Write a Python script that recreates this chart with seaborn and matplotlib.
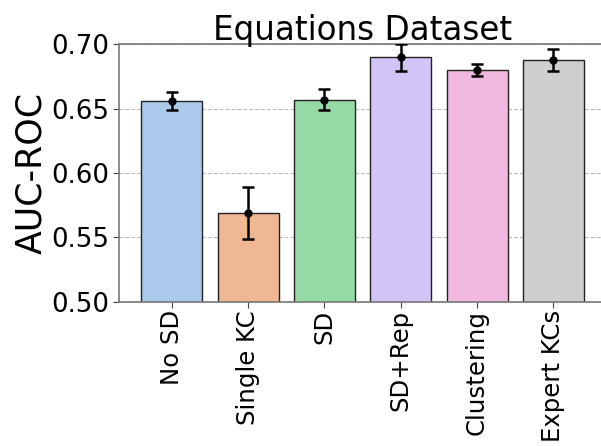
import matplotlib
matplotlib.use("Agg")
import matplotlib.pyplot as plt
import seaborn as sns
import pandas as pd
import numpy as np

categories = ["No SD", "Single KC", "SD", "SD+Rep", "Clustering", "Expert KCs"]
auc_mean = [0.656, 0.569, 0.657, 0.690, 0.680, 0.688]
auc_err = [0.007, 0.020, 0.008, 0.0105, 0.0048, 0.0083]

pal = sns.color_palette("pastel")
colors = [pal[0], pal[1], pal[2], pal[4], pal[6], pal[7]]

sns.set_style("white")
plt.rcParams['font.family'] = ['DejaVu Sans']
plt.rcParams['text.color'] = 'black'
plt.rcParams['axes.labelcolor'] = 'black'
plt.rcParams['xtick.color'] = 'black'
plt.rcParams['ytick.color'] = 'black'

fig = plt.figure(figsize=(6.01, 4.46), dpi=100)
ax = fig.add_axes([118.5/601, 1 - 301.7/446, (606.7 - 118.5)/601, (301.7 - 44.4)/446])

df = pd.DataFrame({"method": categories, "auc": auc_mean})
sns.barplot(data=df, x="method", y="auc", hue="method", palette=colors,
            legend=False, edgecolor="#222222", linewidth=1.0, width=0.8, ax=ax, zorder=2)
ax.errorbar(np.arange(len(categories)), auc_mean, yerr=auc_err, fmt="o",
            color="black", ecolor="black", elinewidth=1.8, capsize=4.5, capthick=1.8,
            markersize=5, zorder=4)

ax.set_ylim(0.50, 0.70)
ax.set_xlim(-0.7, 5.7)
ax.set_yticks([0.50, 0.55, 0.60, 0.65, 0.70])
ax.set_yticklabels(["0.50", "0.55", "0.60", "0.65", "0.70"])
ax.yaxis.grid(True, linestyle="--", color="#bbbbbb", linewidth=0.8, zorder=0)
ax.set_axisbelow(True)
ax.set_xlabel("")
ax.set_ylabel("AUC-ROC", fontsize=25, labelpad=2)
ax.set_title("Equations Dataset", fontsize=23.5, pad=3)
ax.tick_params(axis="x", labelsize=17.6, labelcolor="black", rotation=90, bottom=True,
               length=4, pad=2, color="#444444")
ax.tick_params(axis="y", labelsize=18.7, labelcolor="black", left=True, length=4,
               pad=3, color="#444444")
for s in ax.spines.values():
    s.set_color("#777777")
    s.set_linewidth(1.2)

fig.savefig("out.png", dpi=100)
